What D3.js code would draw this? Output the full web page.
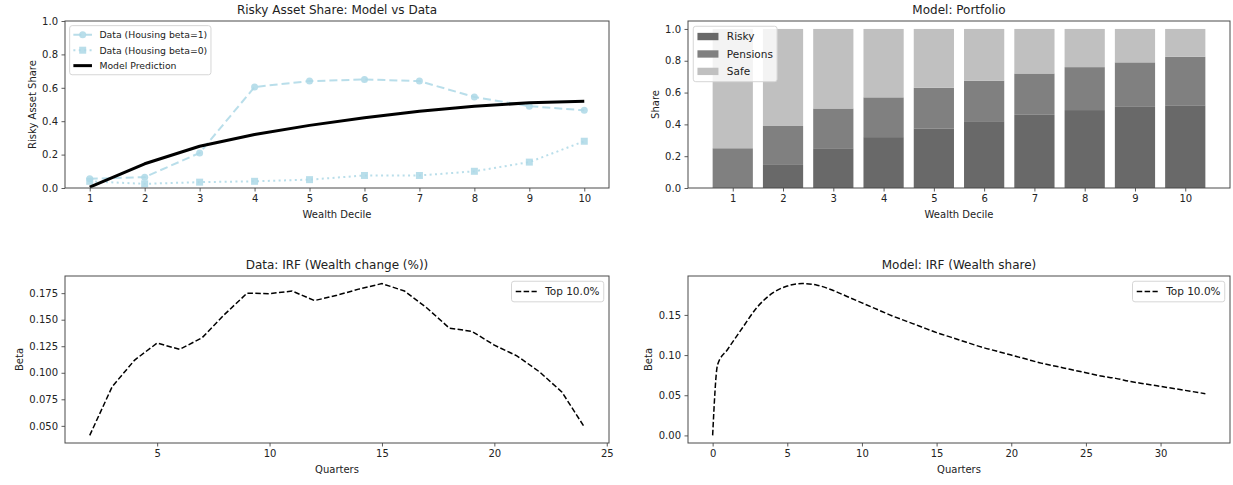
<!DOCTYPE html>
<html>
<head>
<meta charset="utf-8">
<script src="https://cdn.jsdelivr.net/npm/d3@7"></script>
<style>
  body { margin: 0; background: #fff; }
  svg text { font-family: "DejaVu Sans", sans-serif; fill: #222; }
</style>
</head>
<body>
<svg id="fig" width="1233" height="485"></svg>
<script>
// ---- Data ---------------------------------------------------------------
const deciles = [1, 2, 3, 4, 5, 6, 7, 8, 9, 10];
const dataHousingBeta1 = [0.055, 0.065, 0.21, 0.605, 0.64, 0.65, 0.64, 0.545, 0.49, 0.465];
const dataHousingBeta0 = [0.04, 0.025, 0.035, 0.04, 0.05, 0.075, 0.075, 0.10, 0.155, 0.28];
const modelRiskyShare  = [0.005, 0.145, 0.25, 0.32, 0.375, 0.42, 0.46, 0.49, 0.51, 0.52];

const portfolioRisky    = [0.005, 0.145, 0.25, 0.32, 0.375, 0.42, 0.46, 0.49, 0.51, 0.52];
const portfolioPensions = [0.245, 0.245, 0.25, 0.25, 0.255, 0.255, 0.26, 0.27, 0.28, 0.305];
const portfolioSafe     = [0.75, 0.61, 0.50, 0.43, 0.37, 0.325, 0.28, 0.24, 0.21, 0.175];
const portfolioSeries   = ["Risky", "Pensions", "Safe"];

const irfDataQuarters = [2, 3, 4, 5, 6, 7, 8, 9, 10, 11, 12, 13, 14, 15, 16, 17, 18, 19, 20, 21, 22, 23, 24];
const irfDataBeta = [0.041, 0.087, 0.112, 0.128, 0.122, 0.133, 0.155, 0.175, 0.1745, 0.177, 0.168,
                     0.173, 0.179, 0.184, 0.177, 0.161, 0.142, 0.139, 0.126, 0.116, 0.101, 0.082, 0.049];

const irfModelQuarters = [0, 0.33, 1, 2, 3, 4, 5, 6, 7, 8, 9, 10, 11, 12, 13, 14, 15, 16, 17, 18, 19, 20,
                          21, 22, 23, 24, 25, 26, 27, 28, 29, 30, 31, 32, 33];
const irfModelBeta = [0, 0.088, 0.107, 0.134, 0.160, 0.177, 0.186, 0.189, 0.187, 0.181, 0.173, 0.165,
                      0.157, 0.149, 0.142, 0.135, 0.128, 0.122, 0.116, 0.110, 0.105, 0.100, 0.095,
                      0.090, 0.086, 0.082, 0.078, 0.074, 0.071, 0.067, 0.064, 0.061, 0.058, 0.055, 0.052];

const decileTicks = deciles;
const shareTicks = [0, 0.2, 0.4, 0.6, 0.8, 1.0];
const irfDataXTicks = [5, 10, 15, 20, 25];
const irfDataYTicks = [0.050, 0.075, 0.100, 0.125, 0.150, 0.175];
const irfModelXTicks = [0, 5, 10, 15, 20, 25, 30];
const irfModelYTicks = [0.00, 0.05, 0.10, 0.15];
const irfLegendLabel = "Top 10.0%";

// ---- Styling ------------------------------------------------------------
const LIGHT_BLUE = "#add8e6";
const BAR_COLORS = ["#696969", "#808080", "#c0c0c0"];
const SPINE = "#4a4a4a";

const svg = d3.select("#fig");

// pad an extent by 5% on each side
function padded(lo, hi, f = 0.05) {
  const m = (hi - lo) * f;
  return [lo - m, hi + m];
}

// Draws frame, ticks, title and axis labels for one panel
function panel(box, xDomain, yDomain, opts) {
  const g = svg.append("g");
  const x = d3.scaleLinear().domain(xDomain).range([box.x0, box.x1]);
  const y = d3.scaleLinear().domain(yDomain).range([box.y1, box.y0]);

  const plot = g.append("g");

  const xa = g.append("g").attr("transform", `translate(0,${box.y1})`)
    .call(d3.axisBottom(x).tickValues(opts.xTicks).tickSize(3.5).tickPadding(3.5)
      .tickFormat(opts.xFmt));
  const ya = g.append("g").attr("transform", `translate(${box.x0},0)`)
    .call(d3.axisLeft(y).tickValues(opts.yTicks).tickSize(3.5).tickPadding(3.5)
      .tickFormat(opts.yFmt));
  [xa, ya].forEach(a => {
    a.select(".domain").remove();
    a.attr("font-family", "DejaVu Sans").attr("font-size", 10);
    a.selectAll(".tick line").attr("stroke", SPINE).attr("stroke-width", 0.9);
    a.selectAll(".tick text").attr("fill", "#222");
  });

  g.append("rect")
    .attr("x", box.x0).attr("y", box.y0)
    .attr("width", box.x1 - box.x0).attr("height", box.y1 - box.y0)
    .attr("fill", "none").attr("stroke", SPINE).attr("stroke-width", 1);

  // y tick label width for ylabel placement
  let maxW = 0;
  ya.selectAll(".tick text").each(function () { maxW = Math.max(maxW, this.getBBox().width); });

  g.append("text")
    .attr("x", (box.x0 + box.x1) / 2).attr("y", box.y0 - 7)
    .attr("text-anchor", "middle").attr("font-size", 12)
    .text(opts.title);
  g.append("text")
    .attr("x", (box.x0 + box.x1) / 2).attr("y", box.y1 + 30)
    .attr("text-anchor", "middle").attr("font-size", 10)
    .text(opts.xLabel);
  const ylx = box.x0 - 7 - maxW - 6.5;
  g.append("text")
    .attr("transform", `translate(${ylx},${(box.y0 + box.y1) / 2}) rotate(-90)`)
    .attr("text-anchor", "middle").attr("font-size", 10)
    .text(opts.yLabel);

  return { g, plot, x, y };
}

// Legend in the style of a matplotlib legend box
function legend(parent, box, corner, fs, items) {
  const pad = 0.4 * fs, hl = 2 * fs, htp = 0.8 * fs, ls = 0.5 * fs, rowH = fs * 1.16, bap = 0.5 * fs;
  const lg = parent.append("g");
  const frame = lg.append("rect");
  const labels = items.map(it => lg.append("text").attr("font-size", fs).text(it.label));
  const tw = d3.max(labels, t => t.node().getComputedTextLength());
  const w = 2 * pad + hl + htp + tw;
  const h = 2 * pad + items.length * rowH + (items.length - 1) * ls;
  const left = corner === "left" ? box.x0 + bap : box.x1 - bap - w;
  const top = box.y0 + bap;
  frame.attr("x", left).attr("y", top).attr("width", w).attr("height", h)
    .attr("rx", 2.5).attr("fill", "#fff").attr("fill-opacity", 0.8)
    .attr("stroke", "#d6d6d6").attr("stroke-width", 1);
  items.forEach((it, i) => {
    const cy = top + pad + i * (rowH + ls) + rowH / 2;
    const hx = left + pad;
    if (it.type === "patch") {
      lg.append("rect").attr("x", hx).attr("y", cy - 0.35 * fs)
        .attr("width", hl).attr("height", 0.7 * fs).attr("fill", it.fill);
    } else {
      lg.append("line").attr("x1", hx).attr("x2", hx + hl).attr("y1", cy).attr("y2", cy)
        .attr("stroke", it.stroke).attr("stroke-width", it.width)
        .attr("stroke-dasharray", it.dash || null).attr("opacity", it.opacity || 1);
      if (it.marker) {
        drawMarker(lg, it.marker, hx + hl / 2, cy, it.markerSize, it.stroke, it.opacity || 1);
      }
    }
    labels[i].attr("x", hx + hl + htp).attr("y", cy + 0.36 * fs);
  });
}

function drawMarker(g, kind, cx, cy, size, color, opacity) {
  if (kind === "circle") {
    g.append("circle").attr("cx", cx).attr("cy", cy).attr("r", size / 2)
      .attr("fill", color).attr("opacity", opacity);
  } else {
    g.append("rect").attr("x", cx - size / 2).attr("y", cy - size / 2)
      .attr("width", size).attr("height", size).attr("fill", color).attr("opacity", opacity);
  }
}

const fmt1 = d3.format(".1f");
const fmtInt = d3.format("d");

// ---- Panel 1: risky asset share, model vs data -------------------------
{
  const box = { x0: 65, x1: 609, y0: 21, y1: 188 };
  const p = panel(box, padded(d3.min(deciles), d3.max(deciles)), [0, 1], {
    xTicks: decileTicks, yTicks: shareTicks, xFmt: fmtInt, yFmt: fmt1,
    title: "Risky Asset Share: Model vs Data", xLabel: "Wealth Decile", yLabel: "Risky Asset Share"
  });
  const line = vals => d3.line().x((d, i) => p.x(deciles[i])).y(d => p.y(d))(vals);
  const OP = 0.85;
  p.plot.append("path").attr("d", line(dataHousingBeta1)).attr("fill", "none")
    .attr("stroke", LIGHT_BLUE).attr("stroke-width", 2).attr("stroke-dasharray", "8,4").attr("opacity", OP);
  deciles.forEach((d, i) => drawMarker(p.plot, "circle", p.x(d), p.y(dataHousingBeta1[i]), 7, LIGHT_BLUE, OP));
  p.plot.append("path").attr("d", line(dataHousingBeta0)).attr("fill", "none")
    .attr("stroke", LIGHT_BLUE).attr("stroke-width", 2).attr("stroke-dasharray", "2,3.4").attr("opacity", OP);
  deciles.forEach((d, i) => drawMarker(p.plot, "square", p.x(d), p.y(dataHousingBeta0[i]), 7, LIGHT_BLUE, OP));
  p.plot.append("path").attr("d", line(modelRiskyShare)).attr("fill", "none")
    .attr("stroke", "#000").attr("stroke-width", 3).attr("stroke-linejoin", "round");

  legend(p.g, box, "left", 9.3, [
    { type: "line", label: "Data (Housing beta=1)", stroke: LIGHT_BLUE, width: 2, dash: "8,4", marker: "circle", markerSize: 7, opacity: OP },
    { type: "line", label: "Data (Housing beta=0)", stroke: LIGHT_BLUE, width: 2, dash: "2,3.4", marker: "square", markerSize: 7, opacity: OP },
    { type: "line", label: "Model Prediction", stroke: "#000", width: 3 }
  ]);
}

// ---- Panel 2: model portfolio composition ------------------------------
{
  const box = { x0: 688, x1: 1230, y0: 21, y1: 188 };
  const barW = 0.8;
  const xExt = padded(d3.min(deciles) - barW / 2, d3.max(deciles) + barW / 2);
  const p = panel(box, xExt, [0, 1.05], {
    xTicks: decileTicks, yTicks: shareTicks, xFmt: fmtInt, yFmt: fmt1,
    title: "Model: Portfolio", xLabel: "Wealth Decile", yLabel: "Share"
  });
  const rows = deciles.map((d, i) => ({
    decile: d, Risky: portfolioRisky[i], Pensions: portfolioPensions[i], Safe: portfolioSafe[i]
  }));
  const stacked = d3.stack().keys(portfolioSeries)(rows);
  stacked.forEach((layer, k) => {
    p.plot.append("g").selectAll("rect").data(layer).join("rect")
      .attr("x", d => p.x(d.data.decile - barW / 2))
      .attr("width", d => p.x(d.data.decile + barW / 2) - p.x(d.data.decile - barW / 2))
      .attr("y", d => p.y(d[1]))
      .attr("height", d => p.y(d[0]) - p.y(d[1]))
      .attr("fill", BAR_COLORS[k]);
  });
  legend(p.g, box, "left", 10.5, portfolioSeries.map((s, k) => ({ type: "patch", label: s, fill: BAR_COLORS[k] })));
}

// ---- Panel 3: data impulse response ------------------------------------
{
  const box = { x0: 65, x1: 609, y0: 276, y1: 443 };
  const p = panel(box, padded(d3.min(irfDataQuarters), d3.max(irfDataQuarters)),
    padded(d3.min(irfDataBeta), d3.max(irfDataBeta)), {
      xTicks: irfDataXTicks, yTicks: irfDataYTicks, xFmt: fmtInt, yFmt: d3.format(".3f"),
      title: "Data: IRF (Wealth change (%))", xLabel: "Quarters", yLabel: "Beta"
    });
  p.plot.append("path")
    .attr("d", d3.line().x((d, i) => p.x(irfDataQuarters[i])).y(d => p.y(d))(irfDataBeta))
    .attr("fill", "none").attr("stroke", "#000").attr("stroke-width", 1.5).attr("stroke-dasharray", "5.5,2.4");
  legend(p.g, box, "right", 10.5, [{ type: "line", label: irfLegendLabel, stroke: "#000", width: 1.5, dash: "5.5,2.4" }]);
}

// ---- Panel 4: model impulse response -----------------------------------
{
  const box = { x0: 688, x1: 1230, y0: 276, y1: 443 };
  const p = panel(box, padded(d3.min(irfModelQuarters), d3.max(irfModelQuarters)),
    padded(d3.min(irfModelBeta), d3.max(irfModelBeta)), {
      xTicks: irfModelXTicks, yTicks: irfModelYTicks, xFmt: fmtInt, yFmt: d3.format(".2f"),
      title: "Model: IRF (Wealth share)", xLabel: "Quarters", yLabel: "Beta"
    });
  p.plot.append("path")
    .attr("d", d3.line().curve(d3.curveMonotoneX).x((d, i) => p.x(irfModelQuarters[i])).y(d => p.y(d))(irfModelBeta))
    .attr("fill", "none").attr("stroke", "#000").attr("stroke-width", 1.5).attr("stroke-dasharray", "5.5,2.4");
  legend(p.g, box, "right", 10.5, [{ type: "line", label: irfLegendLabel, stroke: "#000", width: 1.5, dash: "5.5,2.4" }]);
}
</script>
</body>
</html>
